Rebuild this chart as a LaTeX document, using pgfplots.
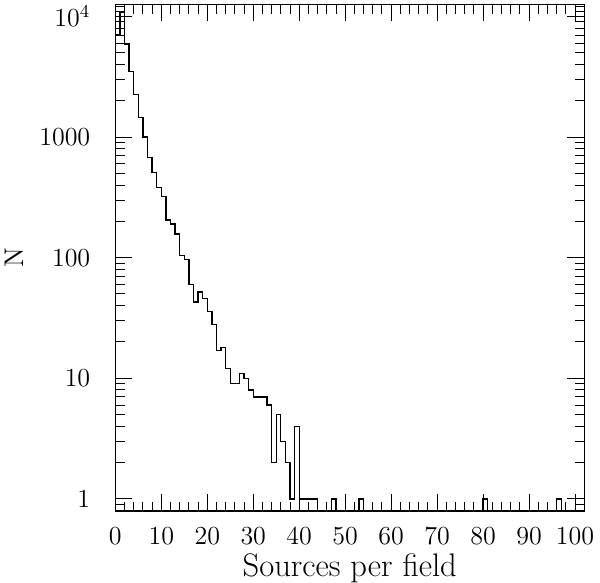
\documentclass[border=0pt]{standalone}
\usepackage{fontspec}
\usepackage{pgfplots}
\pgfplotsset{compat=1.18}

\newcommand\ticklabfont{\fontsize{13}{15}\selectfont\addfontfeatures{LetterSpace=10}}

\begin{document}
\begin{tikzpicture}
\begin{axis}[
  at={(0,0)}, anchor=south west,
  scale only axis,
  width=234.5pt, height=253.35pt,
  ymode=log,
  xmin=0, xmax=102,
  ymin=0.7943, ymax=12589,
  xtick={0,10,...,100},
  xticklabels={0,10,20,30,40,50,60,70,80,90,100},
  minor x tick num=4,
  ytick={1,10,100,1000,10000},
  yticklabels={1,10,100,1000,10\textsuperscript{4}},
  minor ytick={0.8,0.9,2,3,4,5,6,7,8,9,20,30,40,50,60,70,80,90,
    200,300,400,500,600,700,800,900,2000,3000,4000,5000,6000,7000,8000,9000,11000,12000},
  tick pos=both,
  tick align=inside,
  major tick length=8.5pt,
  minor tick length=4.7pt,
  every tick/.style={black, line width=0.5pt},
  axis line style={line width=0.6pt},
  tick label style={font=\ticklabfont},
  xticklabel style={yshift=-4.5pt},
  yticklabel style={xshift=-9pt},
  xlabel={Sources per field},
  ylabel={N},
  every axis x label/.style={at={(axis description cs:0.5,-0.1139)},anchor=center,
    font=\fontsize{16.3}{18}\selectfont\addfontfeatures{LetterSpace=2}},
  every axis y label/.style={at={(axis description cs:-0.216,0.5)},rotate=90,anchor=center,
    font=\fontsize{13.5}{16}\selectfont},
]
% histogram, bins of width 1, value held from the left edge; 0.5 = empty bin
\addplot[const plot, black, line width=0.65pt] coordinates {
  (0,7000) (1,10700) (2,5900) (3,3500) (4,2240) (5,1460) (6,1000) (7,676)
  (8,508) (9,380) (10,320) (11,205) (12,190) (13,157) (14,104) (15,96)
  (16,60) (17,43) (18,52) (19,46) (20,36) (21,28) (22,17) (23,18)
  (24,12) (25,9) (26,9) (27,11) (28,10) (29,8) (30,7) (31,7)
  (32,7) (33,6) (34,2) (35,5) (36,3) (37,2) (38,1) (39,4)
  (40,1) (41,1) (42,1) (43,1) (44,0.5) (47,1) (48,0.5) (53,1)
  (54,0.5) (80,1) (81,0.5) (96,1) (97,0.5) (102,0.5)
};
\end{axis}
\pgfresetboundingbox
\path (-57.65pt,-36pt) rectangle (242.35pt,255.5pt);
\end{tikzpicture}
\end{document}
